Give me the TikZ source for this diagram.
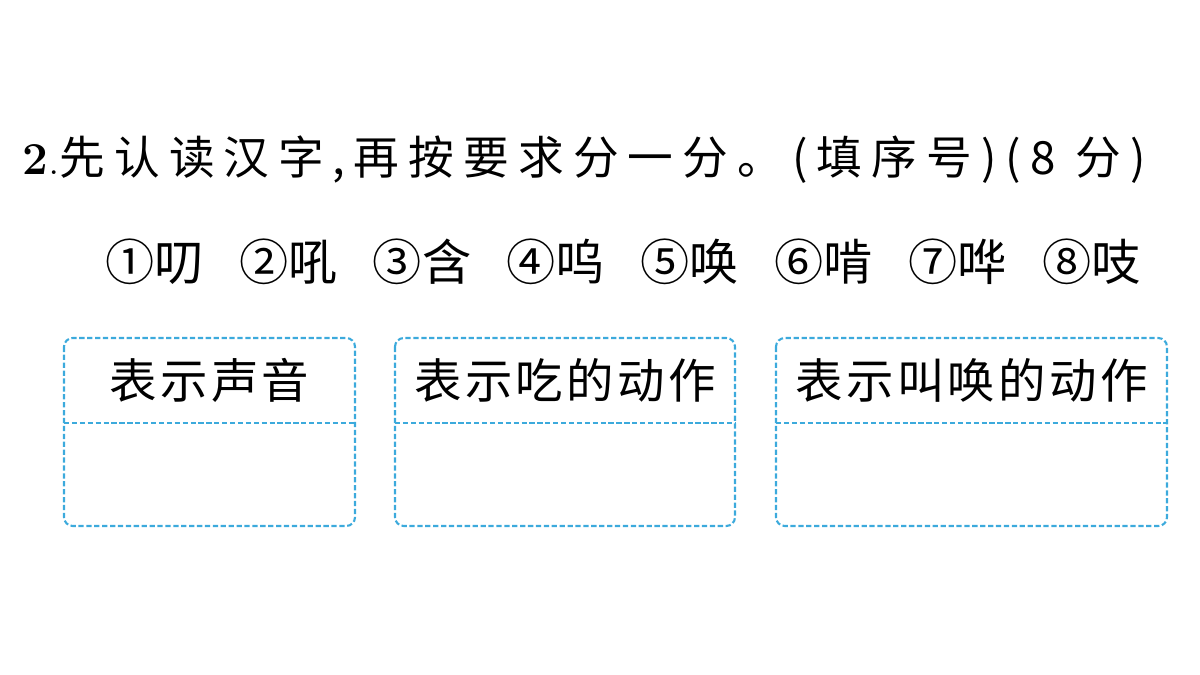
\documentclass[tikz,border=0pt]{standalone}
\usepackage{fontspec}
\newfontfamily\cjk{Noto Sans CJK SC}
\newfontfamily\cjkw[LetterSpace=20]{Noto Sans CJK SC}
\newfontfamily\cjkh[LetterSpace=7]{Noto Sans CJK SC}
\definecolor{boxc}{RGB}{60,170,220}
\begin{document}
\begin{tikzpicture}[x=0.02cm,y=-0.02cm,
  bx/.style={draw=boxc,line width=1.2pt,dash pattern=on 3pt off 1.5pt,rounded corners=5pt},
  dv/.style={draw=boxc,line width=1pt,dash pattern=on 3pt off 1.5pt},
  hd/.style={font=\cjkh\fontsize{27}{30}\selectfont,inner sep=0pt}]
\useasboundingbox (0,0) rectangle (1200,675);
\node[anchor=west,inner sep=0pt,font=\fontsize{26}{30}\selectfont] (t) at (22,160)
 {\textbf{2}.\cjkw 先认读汉字\,,再按要求分一分。(填序号)(8 分)};
\node[anchor=west,inner sep=0pt,font=\cjk\fontsize{28}{30}\selectfont] (l) at (105,262)
 {①叨\hspace{0.72em}②吼\hspace{0.72em}③含\hspace{0.72em}④呜\hspace{0.72em}⑤唤\hspace{0.72em}⑥啃\hspace{0.72em}⑦哗\hspace{0.72em}⑧吱};
\foreach \n/\a/\b/\t in {a/64/355/表示声音, b/395/735/表示吃的动作, c/776/1167/表示叫唤的动作}{
  \draw[bx] (\a,338) rectangle (\b,526);
  \draw[dv] (\a,423) -- (\b,423);
  \node[hd] (\n) at ({(\a+\b)/2},380) {\t};
}
\end{tikzpicture}
\end{document}
